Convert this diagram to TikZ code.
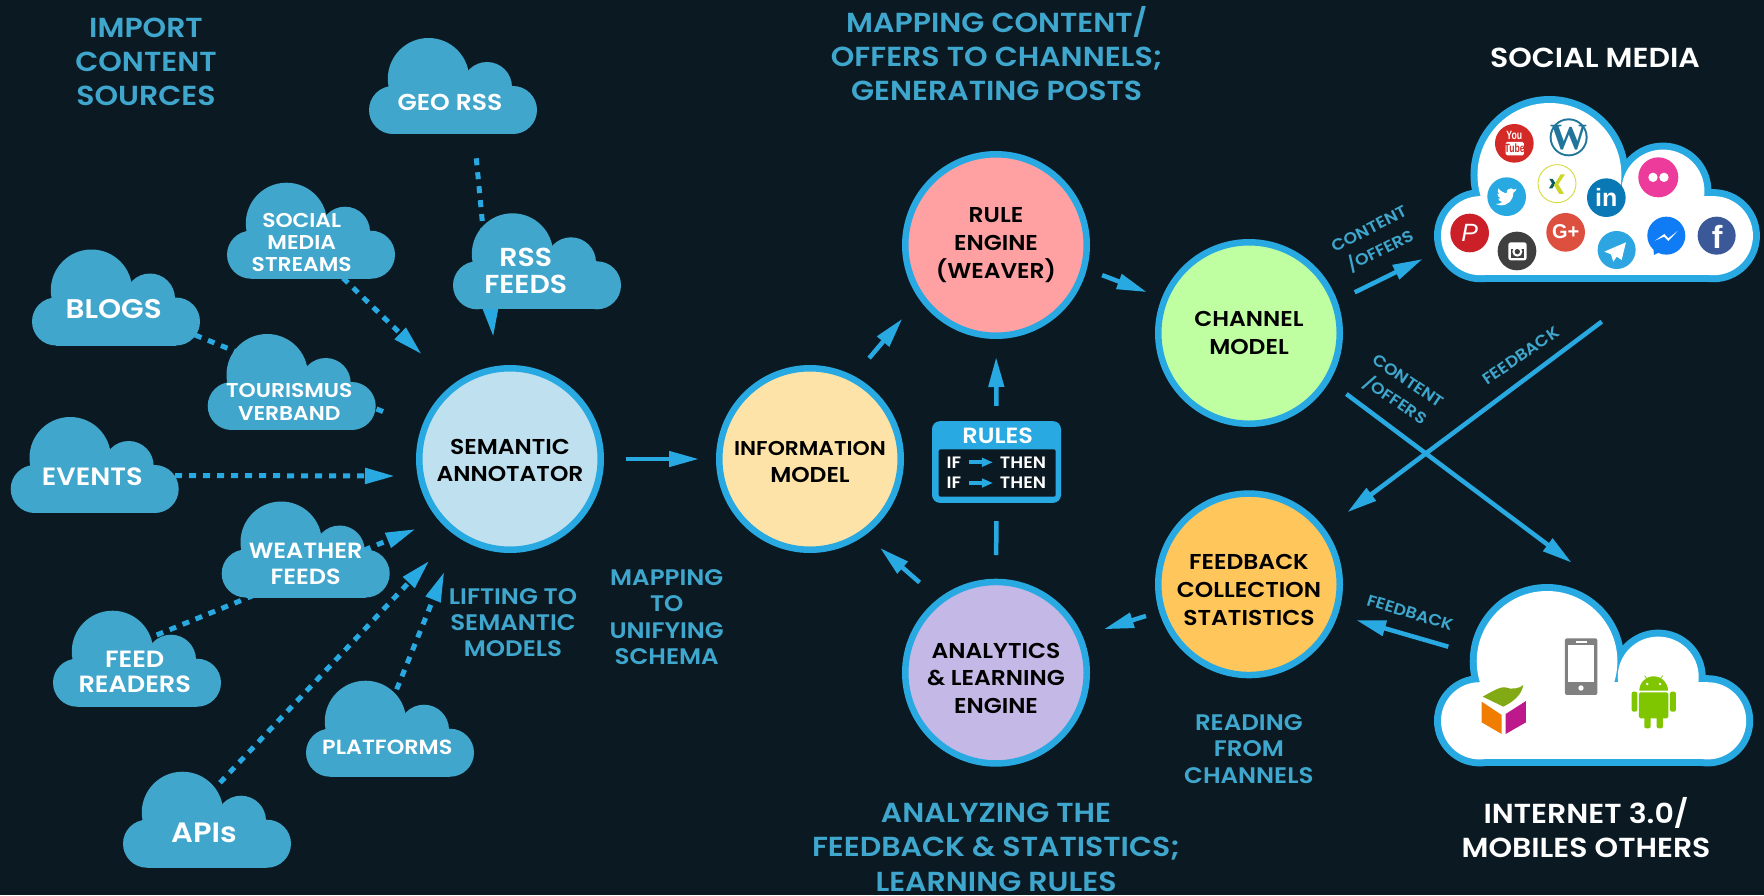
\documentclass[tikz,border=0pt]{standalone}
\usepackage{fontspec}
\setmainfont{Poppins}[BoldFont=* SemiBold,FakeStretch=1.09]
\newfontfamily\iconsans{Liberation Sans}
\newfontfamily\iconserif{Liberation Serif}
\usetikzlibrary{arrows.meta}
\definecolor{bgc}{HTML}{0B1A22}
\definecolor{linec}{HTML}{29A9E1}
\definecolor{cloudc}{HTML}{41A6CC}
\definecolor{headc}{HTML}{3FA7CE}
\definecolor{fsem}{HTML}{BFE0EF}
\definecolor{finfo}{HTML}{FDE3A7}
\definecolor{frule}{HTML}{FFA0A3}
\definecolor{fchan}{HTML}{BFFFA2}
\definecolor{ffeed}{HTML}{FFC65C}
\definecolor{fanal}{HTML}{C4B9E6}
\definecolor{ytc}{RGB}{211,42,39}
\definecolor{wpc}{RGB}{33,117,155}
\definecolor{xrim}{RGB}{213,220,58}
\definecolor{xdark}{RGB}{13,93,94}
\definecolor{xlime}{RGB}{205,214,40}
\definecolor{lic}{RGB}{10,120,181}
\definecolor{flc}{RGB}{237,59,155}
\definecolor{pinc}{RGB}{203,32,39}
\definecolor{igc}{RGB}{63,63,63}
\definecolor{gpc}{RGB}{221,80,64}
\definecolor{tgc}{RGB}{44,165,224}
\definecolor{msc}{RGB}{15,124,245}
\definecolor{fbc}{RGB}{59,89,152}
\definecolor{cubeo}{RGB}{240,125,0}
\definecolor{cubem}{RGB}{190,25,140}
\definecolor{cubeg}{RGB}{130,170,20}
\definecolor{phonec}{RGB}{128,128,128}
\definecolor{droidc}{RGB}{127,197,0}
\tikzset{
 txt/.style 2 args={font=\fontsize{#1}{#2}\selectfont\bfseries,inner sep=0pt,outer sep=0pt,align=center},
 cloudtxt/.style 2 args={txt={#1}{#2},text=white},
 headtxt/.style 2 args={txt={#1}{#2},text=headc},
 roundnode/.style={circle,draw=linec,line width=6.5pt,fill=#1,minimum size=181.5pt,inner sep=0pt,text=black,align=center,font=\fontsize{21.5}{27.6}\selectfont\bfseries},
 arrowline/.style={draw=linec,line width=4.5pt,-{Triangle[length=30pt,width=15pt]}},
 plainline/.style={draw=linec,line width=4.5pt},
 dotline/.style={draw=linec,line width=5pt,dash pattern=on 7pt off 7pt,-{Triangle[length=30pt,width=15pt]}},
 dotplain/.style={draw=linec,line width=5pt,dash pattern=on 7pt off 7pt},
 minilabel/.style={txt={16}{18},text=headc},
 logotext/.style={inner sep=0pt,text=white}
}
\newcommand\topgap[1]{\rule{0pt}{#1pt}}
\newcommand\cloudshape[5]{%
 \begin{scope}[shift={(#1,#2)}]
 \fill[#4] (24*#3,72*#3) circle[radius=24*#3-#5];
 \fill[#4] (59.5*#3,40.7*#3) circle[radius=40.7*#3-#5];
 \fill[#4] (118*#3,49*#3) circle[radius=25*#3-#5];
 \fill[#4] (144*#3,72*#3) circle[radius=24*#3-#5];
 \fill[#4] (24*#3,48*#3+#5) rectangle (144*#3,96*#3-#5);
 \end{scope}}
\begin{document}
\begin{tikzpicture}[x=1pt,y=-1pt]
\useasboundingbox (0,0) rectangle (1764,895);
\fill[bgc] (0,0) rectangle (1764,895);

% round nodes
\node[roundnode=fsem]  (sem)  at (510,459) {\topgap{18.5}SEMANTIC\\ANNOTATOR};
\node[roundnode=finfo] (info) at (810,459) {\topgap{20.5}{\fontsize{20}{27.6}\selectfont INFORMATION}\\MODEL};
\node[roundnode=frule] (rule) at (996,245) {RULE\\ENGINE\\(WEAVER)};
\node[roundnode=fchan] (chan) at (1249,333) {CHANNEL\\MODEL};
\node[roundnode=ffeed] (feed) at (1249,584.3) {\topgap{26.5}FEEDBACK\\COLLECTION\\STATISTICS};
\node[roundnode=fanal] (anal) at (996,672.7) {\topgap{26.5}ANALYTICS\\\& LEARNING\\ENGINE};

% rules box
\node[fill=linec,rounded corners=8pt,minimum width=129pt,minimum height=81.7pt,inner sep=0pt] (rules) at (996.5,462) {};
\fill[bgc,rounded corners=2pt] (938.7,449.3) rectangle (1055.7,496.7);
\node[cloudtxt={22}{24}] (rulesT) at (997.7,436) {RULES};
\node[cloudtxt={16.5}{18}] (ifa) at (954,462.3) {IF};
\node[cloudtxt={16.5}{18}] (thena) at (1023,462.3) {THEN};
\node[cloudtxt={16.5}{18}] (ifb) at (954,483) {IF};
\node[cloudtxt={16.5}{18}] (thenb) at (1023,483) {THEN};
\draw[draw=linec,line width=4pt,-{Triangle[length=11pt,width=8.5pt]},shorten <=7.6pt,shorten >=7pt] (ifa.east) -- (thena.west);
\draw[draw=linec,line width=4pt,-{Triangle[length=11pt,width=8.5pt]},shorten <=7.6pt,shorten >=7pt] (ifb.east) -- (thenb.west);

% solid connectors between round nodes
\draw[arrowline,shorten <=21.7pt,shorten >=17pt] (sem.0) -- (info.180);
\draw[arrowline,shorten <=23.3pt,shorten >=25.8pt] (info.62.6) -- (rule.215.4);
\draw[arrowline,shorten <=16.4pt,shorten >=16pt] (rule.-15.2) -- (chan.158);
\draw[arrowline,shorten <=15pt,shorten >=18pt] (rules.north) -- (rule.south);
\draw[plainline,shorten <=23.7pt,shorten >=18pt] (anal.north) -- (rules.south);
\draw[arrowline,shorten <=24.6pt,shorten >=19.6pt] (anal.128.3) -- (info.-54);
\draw[arrowline,shorten <=13.8pt,shorten >=22.3pt] (feed.197.1) -- (anal.23.1);

% connectors to the outer clouds
\coordinate (socialIn) at (1422.7,259);
\coordinate (socialOut) at (1601.7,321.7);
\coordinate (netIn) at (1571.7,562.7);
\coordinate (netOut) at (1448.3,646.7);
\coordinate (feedIn) at (1347.3,512.3);
\coordinate (feedInB) at (1356,620);
\draw[arrowline,shorten <=19.4pt] (chan.20.8) -- (socialIn);
\draw[arrowline,shorten <=21pt] (chan.-31.5) -- (netIn);
\draw[arrowline] (socialOut) -- (feedIn);
\draw[arrowline] (netOut) -- (feedInB);

% source connectors (behind the clouds)
\coordinate (geoOut) at (476.3,158.3);
\coordinate (semA) at (493.3,337);
\coordinate (strOut) at (343,278);
\coordinate (semB) at (421.7,354.3);
\coordinate (blogOut) at (195,335);
\coordinate (semC) at (389,414);
\coordinate (evOut) at (175,475.5);
\coordinate (semD) at (395,476);
\coordinate (frOut) at (156.7,635);
\coordinate (semE) at (415.7,529);
\coordinate (apiOut) at (220,782.7);
\coordinate (semF) at (429.3,560.7);
\coordinate (platOut) at (396.7,689.3);
\coordinate (semG) at (444.3,571.7);
\draw[dotline] (geoOut) -- (semA);
\draw[dotline] (strOut) -- (semB);
\draw[dotplain] (blogOut) -- (semC);
\draw[dotline] (evOut) -- (semD);
\draw[dotline] (frOut) -- (semE);
\draw[dotline] (apiOut) -- (semF);
\draw[dotline] (platOut) -- (semG);

% source clouds
\cloudshape{32}{249.5}{1}{cloudc}{0}
\cloudshape{10.7}{417}{1}{cloudc}{0}
\cloudshape{207.7}{334}{1}{cloudc}{0}
\cloudshape{227}{182.7}{1}{cloudc}{0}
\cloudshape{369}{38}{1}{cloudc}{0}
\cloudshape{453}{213.3}{1}{cloudc}{0}
\cloudshape{221.7}{501.5}{1}{cloudc}{0}
\cloudshape{53}{610.7}{1}{cloudc}{0}
\cloudshape{306}{680.7}{1}{cloudc}{0}
\cloudshape{123}{771.7}{1}{cloudc}{0}
\node[cloudtxt={27}{32}] (blogs) at (113.7,308.7) {BLOGS};
\node[cloudtxt={25}{30}] (events) at (92.3,476.7) {EVENTS};
\node[cloudtxt={20}{22.3}] (tour) at (289.3,402) {TOURISMUS\\VERBAND};
\node[cloudtxt={20}{22}] (streams) at (301.7,242.7) {SOCIAL\\MEDIA\\STREAMS};
\node[cloudtxt={23}{27}] (georss) at (450,102) {GEO RSS};
\node[cloudtxt={26}{26.5}] (rss) at (525.7,271) {RSS\\FEEDS};
\node[cloudtxt={22}{26.3}] (weather) at (305.7,564.2) {WEATHER\\FEEDS};
\node[cloudtxt={23.5}{24.6}] (readers) at (134.7,672) {FEED\\READERS};
\node[cloudtxt={20.5}{27}] (platforms) at (387.3,747.7) {PLATFORMS};
\node[cloudtxt={28}{32}] (apis) at (204,832.7) {APIs};

% outer clouds
\cloudshape{1434}{96}{1.94}{linec}{0}
\cloudshape{1434}{96}{1.94}{white}{7}
\cloudshape{1434}{584}{1.9}{linec}{0}
\cloudshape{1434}{584}{1.9}{white}{7}

% social media logos
\begin{scope}[shift={(1300,80)},x=0.3333pt,y=-0.3333pt]
 % YouTube
 \fill[ytc] (643,190) circle[radius=58];
 \node[logotext,font=\iconsans\fontsize{12}{12}\selectfont\bfseries] (yt1) at (643,167) {\scalebox{0.72}[1]{You}};
 \fill[white,rounded corners=1.5pt] (617,186) rectangle (672,226);
 \node[logotext,text=ytc,font=\iconsans\fontsize{12}{12}\selectfont\bfseries] (yt2) at (644,206) {\scalebox{0.72}[1]{Tube}};
 % WordPress
 \fill[wpc] (806,172) circle[radius=57];
 \fill[white] (806,172) circle[radius=51];
 \node[logotext,text=wpc,font=\iconserif\fontsize{37}{37}\selectfont\bfseries] (wp) at (806,174) {W};
 % Xing
 \draw[draw=xrim,line width=0.9pt,fill=white] (771,311) circle[radius=57];
 \fill[xdark] (748,297) -- (758,297) -- (767,310) -- (757,325) -- (747,325) -- (756,310) -- cycle;
 \fill[xlime] (795,283) -- (782,283) -- (762,315) -- (778,342) -- (792,342) -- (775,313) -- cycle;
 % Twitter
 \fill[linec] (620,350) circle[radius=58];
 \fill[white] (648,331) -- (640,338) .. controls (640,360) and (625,376) .. (603,376) .. controls (597,376) and (592,374) .. (588,372) .. controls (596,372) and (602,370) .. (607,366) .. controls (600,365) and (596,361) .. (595,356) -- (602,355) .. controls (596,352) and (592,347) .. (592,341) -- (598,343) .. controls (593,338) and (592,331) .. (595,325) .. controls (602,334) and (612,339) .. (620,340) .. controls (619,330) and (627,324) .. (634,325) .. controls (637,325) and (640,327) .. (642,329) -- (650,326) -- (645,333) -- cycle;
 % LinkedIn
 \fill[lic] (919,353) circle[radius=58];
 \node[logotext,font=\iconsans\fontsize{25}{25}\selectfont\bfseries] (li) at (919,352) {in};
 % Flickr
 \fill[flc] (1075,292) circle[radius=60];
 \fill[white] (1059,292) circle[radius=14];
 \fill[white] (1092,292) circle[radius=14];
 % Pinterest
 \fill[pinc] (509,459) circle[radius=58];
 \node[logotext,font=\iconsans\fontsize{25}{25}\selectfont\itshape] (pin) at (509,459) {P};
 % Instagram
 \fill[igc] (651,513) circle[radius=58];
 \fill[white,rounded corners=2.5pt] (625,487) rectangle (680,541);
 \fill[igc] (632,507) rectangle (673,534);
 \fill[white] (652,515) circle[radius=15];
 \fill[igc] (652,515) circle[radius=8];
 % Google+
 \fill[gpc] (797,457) circle[radius=58];
 \node[logotext,font=\iconsans\fontsize{20}{20}\selectfont\bfseries] (gp) at (797,456) {G+};
 % Telegram
 \fill[tgc] (950,510) circle[radius=57];
 \fill[white] (978,487) -- (913,515) -- (933,523) -- (940,545) -- (950,530) -- (965,540) -- cycle;
 % Messenger
 \fill[msc] (1099,467) circle[radius=57];
 \fill[msc] (1060,500) -- (1062,525) -- (1088,512) -- cycle;
 \fill[white] (1065,482) -- (1093,462) -- (1105,475) -- (1133,453) -- (1105,483) -- (1092,470) -- cycle;
 % Facebook
 \fill[fbc] (1250,467) circle[radius=57];
 \node[logotext,font=\iconsans\fontsize{32}{32}\selectfont\bfseries] (fb) at (1252,472) {f};
\end{scope}

% internet logos
\begin{scope}[shift={(1300,560)},x=0.3333pt,y=-0.3333pt]
 \fill[cubeo] (545,425) -- (605,465) -- (605,522) -- (545,487) -- cycle;
 \fill[cubem] (617,462) -- (678,423) -- (678,487) -- (617,522) -- cycle;
 \fill[cubeg] (548,410) .. controls (575,395) and (600,380) .. (615,382) .. controls (635,390) and (660,385) .. (670,375) .. controls (665,405) and (640,425) .. (610,440) -- cycle;
 \fill[phonec,rounded corners=2pt] (795,235) rectangle (892,405);
 \fill[white] (805,255) rectangle (882,365);
 \fill[white] (843,384) circle[radius=8];
 \fill[white] (827,242) rectangle (860,248);
 \fill[droidc] (1018,392) arc[start angle=180,end angle=360,radius=43] -- cycle;
 \fill[droidc,rounded corners=1.5pt] (1017,397) rectangle (1105,475);
 \fill[droidc,rounded corners=2pt] (995,395) rectangle (1012,455);
 \fill[droidc,rounded corners=2pt] (1110,395) rectangle (1128,455);
 \fill[droidc,rounded corners=2pt] (1033,465) rectangle (1052,505);
 \fill[droidc,rounded corners=2pt] (1070,465) rectangle (1089,505);
 \draw[draw=droidc,line width=0.7pt] (1042,358) -- (1034,347) (1080,358) -- (1088,347);
 \fill[white] (1042,372) circle[radius=4];
 \fill[white] (1080,372) circle[radius=4];
\end{scope}

% headings
\node[headtxt={27.5}{34}] (h1) at (146,62) {IMPORT\\CONTENT\\SOURCES};
\node[headtxt={27.5}{34}] (h2) at (996.7,54) {MAPPING CONTENT/\\OFFERS TO CHANNELS;\\GENERATING POSTS};
\node[headtxt={27.5}{34.5}] (h3) at (996,847) {ANALYZING THE\\FEEDBACK \& STATISTICS;\\LEARNING RULES};
\node[cloudtxt={27.5}{34}] (h4) at (1595,57.4) {SOCIAL MEDIA};
\node[cloudtxt={27.5}{34}] (h5) at (1586,828) {INTERNET 3.0/\\MOBILES OTHERS};
\node[headtxt={22.5}{26.3}] (h6) at (513,622.5) {LIFTING TO\\SEMANTIC\\MODELS};
\node[headtxt={22.5}{26.4}] (h7) at (666.7,617) {MAPPING\\TO\\UNIFYING\\SCHEMA};
\node[headtxt={22.5}{26.3}] (h8) at (1248.8,749) {READING\\FROM\\CHANNELS};

% small labels
\node[minilabel,rotate=27] (l1a) at (1369,229) {CONTENT};
\node[minilabel,rotate=27] (l1b) at (1380,250) {/OFFERS};
\node[minilabel,rotate=-34] (l2a) at (1408.3,381) {CONTENT};
\node[minilabel,rotate=-34] (l2b) at (1395.7,400) {/OFFERS};
\node[minilabel,rotate=34.4] (l3) at (1520.7,355.7) {FEEDBACK};
\node[minilabel,rotate=-17] (l4) at (1410,612.7) {FEEDBACK};
\end{tikzpicture}
\end{document}
